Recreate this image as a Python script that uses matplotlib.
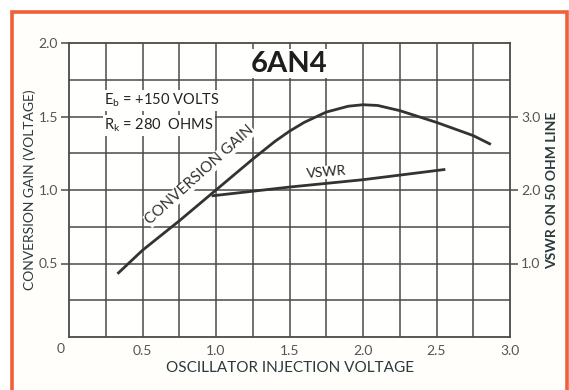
import matplotlib.pyplot as plt
from matplotlib.patches import Rectangle

# conversion gain curve (left axis, volts)
gain_x = [0.33, 0.5, 0.75, 1.0, 1.25, 1.4, 1.5, 1.6, 1.75, 1.9, 2.0, 2.1, 2.25, 2.5, 2.75, 2.87]
gain_y = [0.43, 0.59, 0.79, 1.0, 1.21, 1.33, 1.40, 1.46, 1.53, 1.57, 1.58, 1.575, 1.54, 1.46, 1.37, 1.31]

# VSWR (right axis)
vswr_x = [0.97, 1.5, 2.0, 2.56]
vswr_y = [1.92, 2.04, 2.14, 2.28]

x_ticks = [0.5, 1.0, 1.5, 2.0, 2.5, 3.0]
left_ticks = [0.5, 1.0, 1.5, 2.0]
right_ticks = [1.0, 2.0, 3.0]

plt.rcParams['font.family'] = ['Lato', 'DejaVu Sans']
ink = '#2b3a3c'
grid_col = '#4a4a4a'
curve_col = '#333333'
tick_col = '#555555'

fig = plt.figure(figsize=(5.69, 3.90), dpi=100)
fig.patch.set_facecolor('white')

# orange frame round the chart
frame = Rectangle((12 / 569, -0.05), 555 / 569, 1 - 12 / 390 + 0.05,
                  transform=fig.transFigure, fill=True, zorder=-10,
                  facecolor='#fffefb', edgecolor='#f0603c', lw=2.6)
fig.patches.append(frame)

ax = fig.add_axes([69 / 569, 1 - 337 / 390, 441 / 569, 294 / 390])
ax.set_facecolor('#fffffd')
ax.set_xlim(0, 3.0)
ax.set_ylim(0, 2.0)

# grid every 0.25
for i in range(1, 12):
    ax.axvline(i * 0.25, color=grid_col, lw=1.1, zorder=1)
for i in range(1, 8):
    ax.axhline(i * 0.25, color=grid_col, lw=1.1, zorder=1)
for s in ax.spines.values():
    s.set_color(grid_col)
    s.set_linewidth(1.3)

ax.plot(gain_x, gain_y, color=curve_col, lw=2.0, zorder=3, solid_capstyle='butt')

ax2 = ax.twinx()
ax2.set_ylim(0, 4.0)
ax2.plot(vswr_x, vswr_y, color=curve_col, lw=2.0, zorder=3, solid_capstyle='butt')
ax2.set_yticks(right_ticks)
ax2.set_yticklabels(['1.0', '2.0', '3.0'], fontsize=10, color=tick_col)
ax2.tick_params(axis='y', length=6, width=1.1, color=grid_col, pad=2)
for s in ax2.spines.values():
    s.set_visible(False)

ax.set_xticks(x_ticks)
ax.set_xticklabels(['0.5', '1.0', '1.5', '2.0', '2.5', '3.0'], fontsize=10, color=tick_col)
ax.tick_params(axis='x', length=0, pad=6)
ax.set_yticks(left_ticks)
ax.set_yticklabels(['0.5', '1.0', '1.5', '2.0'], fontsize=10, color=tick_col)
ax.tick_params(axis='y', length=6, width=1.1, color=grid_col, pad=2)
ax.text(-0.06, -0.08, '0', fontsize=10, color=tick_col, ha='center', va='center')

ax.set_xlabel('OSCILLATOR INJECTION VOLTAGE', fontsize=11, color=ink, labelpad=3)
ax.set_ylabel('CONVERSION GAIN (VOLTAGE)', fontsize=10, color=ink, labelpad=2)
ax2.set_ylabel('VSWR ON 50 OHM LINE', fontsize=10, color=ink, labelpad=4,
               fontweight='bold')

ax.text(1.5, 1.86, '6AN4', fontsize=21, fontweight='bold', color='#1e1e1e',
        ha='center', va='center', zorder=5,
        bbox=dict(facecolor='#fffffd', edgecolor='none', pad=1))
ax.text(0.24, 1.61, r'E$_\mathregular{b}$ = +150 VOLTS', fontsize=10.5, color='#222222',
        ha='left', va='center', zorder=5,
        bbox=dict(facecolor='#fffffd', edgecolor='none', pad=1))
ax.text(0.24, 1.44, r'R$_\mathregular{k}$ = 280  OHMS', fontsize=10.5, color='#222222',
        ha='left', va='center', zorder=5,
        bbox=dict(facecolor='#fffffd', edgecolor='none', pad=1))
ax.text(0.89, 1.10, 'CONVERSION GAIN', fontsize=11, color='#333333', rotation=42,
        ha='center', va='center', zorder=2, rotation_mode='anchor',
        bbox=dict(facecolor='#fffffd', edgecolor='none', pad=0.3))
ax.text(1.75, 1.12, 'VSWR', fontsize=10, color='#222222', rotation=5,
        ha='center', va='center', zorder=5,
        bbox=dict(facecolor='#fffffd', edgecolor='none', pad=0.5))

fig.savefig('out.png', dpi=100)
